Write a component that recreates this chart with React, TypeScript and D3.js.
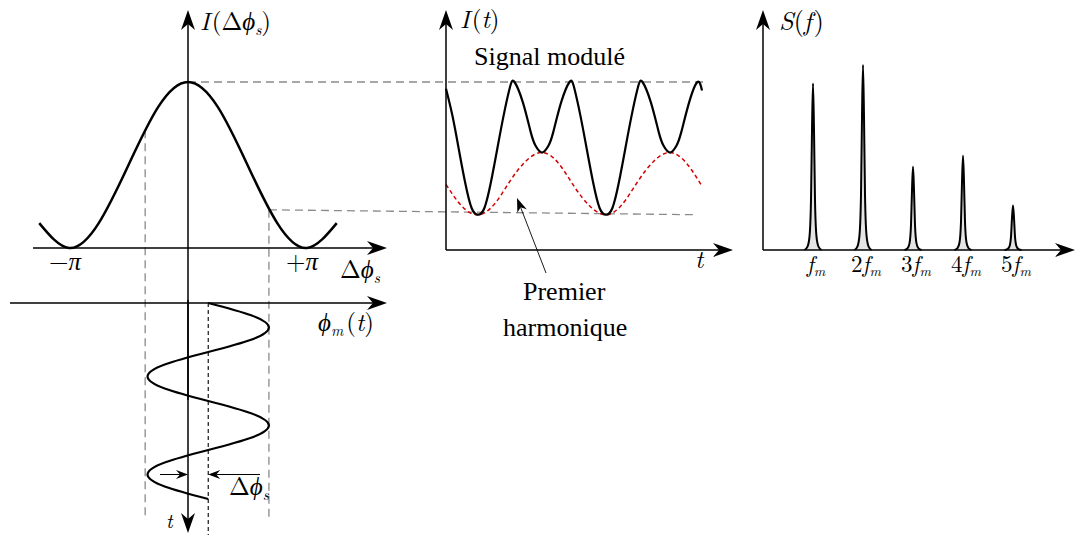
import React from 'react';
import * as d3 from 'd3';

// left panel: interferometer response I(Δφ), Δφ in units of π
const phaseSamples = [-1.25, -1, -0.75, -0.5, -0.25, 0, 0.25, 0.5, 0.75, 1, 1.25];
const intensitySamples = [0.15, 0, 0.15, 0.5, 0.85, 1, 0.85, 0.5, 0.15, 0, 0.15];

// modulation φm(t) drawn downwards, time in modulation periods
const modTime = [0, 0.125, 0.25, 0.375, 0.5, 0.625, 0.75, 0.875, 1, 1.125, 1.25, 1.375, 1.5, 1.625, 1.75, 1.875, 2];
const modPhase = [0.17, 0.53, 0.68, 0.53, 0.17, -0.19, -0.34, -0.19, 0.17, 0.53, 0.68, 0.53, 0.17, -0.19, -0.34, -0.19, 0.17];
const projPhase = [-0.36, 0.68];
const projIntensity = [0.71, 0.23];
const biasPhase = 0.17;
const arrowTime = 1.75;

// middle panel: modulated signal and its first harmonic
const signalT = [0, 0.2, 0.4, 0.6, 0.8, 1, 1.2, 1.4, 1.6, 1.8, 2, 2.14, 2.4, 2.65, 2.8, 3, 3.2, 3.35, 3.6, 3.86,
  4, 4.2, 4.4, 4.6, 4.8, 5, 5.2, 5.4, 5.6, 5.8, 6, 6.14, 6.4, 6.65, 6.8, 7, 7.2, 7.35, 7.6, 7.86, 8];
const signalI = [0.96, 0.8, 0.6, 0.4, 0.25, 0.21, 0.25, 0.4, 0.6, 0.8, 0.97, 1, 0.88, 0.7, 0.62, 0.58, 0.62, 0.7, 0.88, 1,
  0.97, 0.8, 0.6, 0.4, 0.25, 0.21, 0.25, 0.4, 0.6, 0.8, 0.97, 1, 0.88, 0.7, 0.62, 0.58, 0.62, 0.7, 0.88, 1, 0.95];
const harmT = [0, 0.5, 1, 1.5, 2, 2.5, 3, 3.5, 4, 4.5, 5, 5.5, 6, 6.5, 7, 7.5, 8];
const harmI = [0.39, 0.26, 0.21, 0.27, 0.41, 0.53, 0.58, 0.52, 0.38, 0.26, 0.21, 0.27, 0.41, 0.53, 0.58, 0.52, 0.38];

// right panel: spectrum
const harmOrder = [1, 2, 3, 4, 5];
const harmLabels = ['', '2', '3', '4', '5'];
const harmAmp = [0.9, 1.0, 0.45, 0.51, 0.24];
const peakOffset = [-0.17, -0.11, -0.07, -0.04, -0.02, 0, 0.02, 0.04, 0.07, 0.11, 0.17];
const peakLevel = [0, 0.02, 0.08, 0.3, 0.72, 1, 0.72, 0.3, 0.08, 0.02, 0];

const lm = '"Latin Modern Roman", "Liberation Serif", serif';
const gray = '#8a8a8a';

function arrowHead(x: number, y: number, angle: number, len = 20, half = 7, inset = 6) {
  const dx = Math.cos(angle), dy = Math.sin(angle);
  const px = -dy, py = dx;
  const bx = x - len * dx, by = y - len * dy;
  const nx = x - (len - inset) * dx, ny = y - (len - inset) * dy;
  return `M${x},${y}L${bx + half * px},${by + half * py}L${nx},${ny}L${bx - half * px},${by - half * py}Z`;
}

function Arrow({ x1, y1, x2, y2, w = 1.5, len = 20, half = 7, inset = 6 }: any) {
  const a = Math.atan2(y2 - y1, x2 - x1);
  const ex = x2 - (len - inset) * Math.cos(a);
  const ey = y2 - (len - inset) * Math.sin(a);
  return (
    <g>
      <line x1={x1} y1={y1} x2={ex} y2={ey} stroke="#000" strokeWidth={w} />
      <path d={arrowHead(x2, y2, a, len, half, inset)} fill="#000" />
    </g>
  );
}

export default function App() {
  const leftX = d3.scaleLinear().domain([-1, 1]).range([69, 307]);
  const leftY = d3.scaleLinear().domain([0, 1]).range([248, 82]);
  const modY = d3.scaleLinear().domain([0, 2]).range([303, 499]);
  const midX = d3.scaleLinear().domain([0, 9]).range([446, 734]);
  const midY = d3.scaleLinear().domain([0, 1]).range([250, 82]);
  const rightX = d3.scaleLinear().domain([0, 6]).range([763, 1063]);
  const rightY = d3.scaleLinear().domain([0, 1]).range([250, 65]);

  const cosLine = d3.line<number>().x((d) => leftX(d)).y((d, i) => leftY(intensitySamples[i])).curve(d3.curveNatural);
  const modLine = d3.line<number>().x((d) => leftX(d)).y((d, i) => modY(modTime[i])).curve(d3.curveNatural);
  const sigLine = d3.line<number>().x((d) => midX(d)).y((d, i) => midY(signalI[i])).curve(d3.curveNatural);
  const harmLine = d3.line<number>().x((d) => midX(d)).y((d, i) => midY(harmI[i])).curve(d3.curveNatural);

  const x0 = leftX(0);
  const yAxisL = leftY(0);
  const yMod = modY(0);
  const yArrow = modY(arrowTime);

  return (
    <svg width={1078} height={535} style={{ position: 'absolute', left: 0, top: 0 }}>
      {/* French captions first */}
      <text x={474} y={65} fontSize={26} fontFamily='"Liberation Serif"'>Signal modulé</text>
      <text x={523} y={300} fontSize={26} fontFamily='"Liberation Serif"'>Premier</text>
      <text x={503} y={336} fontSize={26} fontFamily='"Liberation Serif"'>harmonique</text>

      {/* gray projection lines */}
      <g stroke={gray} strokeWidth={1.3} strokeDasharray="8,5" fill="none">
        <line x1={x0} y1={leftY(1)} x2={midX(8.05)} y2={midY(1)} />
        <line x1={leftX(projPhase[1])} y1={leftY(projIntensity[1])} x2={midX(7.75)} y2={midY(0.21)} />
        <line x1={leftX(projPhase[0])} y1={leftY(projIntensity[0])} x2={leftX(projPhase[0])} y2={517} />
        <line x1={leftX(projPhase[1])} y1={leftY(projIntensity[1])} x2={leftX(projPhase[1])} y2={520} />
      </g>
      <line x1={leftX(biasPhase)} y1={yMod} x2={leftX(biasPhase)} y2={535} stroke="#000" strokeWidth={1.1} strokeDasharray="4,3" />

      {/* left axes */}
      <Arrow x1={33} y1={yAxisL} x2={387} y2={yAxisL} />
      <Arrow x1={10} y1={yMod} x2={387} y2={yMod} />
      <Arrow x1={x0} y1={400} x2={x0} y2={10} />
      <Arrow x1={x0} y1={300} x2={x0} y2={533} />

      <path d={cosLine(phaseSamples) || ''} fill="none" stroke="#000" strokeWidth={2.5} />
      <path d={modLine(modPhase) || ''} fill="none" stroke="#000" strokeWidth={2.2} />

      {/* Δφs marker */}
      <Arrow x1={160} y1={yArrow} x2={x0} y2={yArrow} w={1} len={12} half={4.5} inset={4} />
      <Arrow x1={260} y1={yArrow} x2={leftX(biasPhase)} y2={yArrow} w={1} len={12} half={4.5} inset={4} />

      <text x={200} y={30} fontFamily={lm} fontSize={25}>
        <tspan fontStyle="italic">I</tspan>
        <tspan dx={2}>(Δ</tspan>
        <tspan fontStyle="italic">ϕ</tspan>
        <tspan fontStyle="italic" fontSize={15} dy={5}>s</tspan>
        <tspan dy={-5}>)</tspan>
      </text>
      <text x={65} y={270} textAnchor="middle" fontFamily={lm} fontSize={25}>
        −<tspan fontStyle="italic">π</tspan>
      </text>
      <text x={302} y={270} textAnchor="middle" fontFamily={lm} fontSize={25}>
        +<tspan fontStyle="italic">π</tspan>
      </text>
      <text x={340} y={278} fontFamily={lm} fontSize={25}>
        Δ<tspan fontStyle="italic">ϕ</tspan>
        <tspan fontStyle="italic" fontSize={15} dy={5}>s</tspan>
      </text>
      <text x={318} y={331} fontFamily={lm} fontSize={25}>
        <tspan fontStyle="italic">ϕ</tspan>
        <tspan fontStyle="italic" fontSize={15} dy={5}>m</tspan>
        <tspan dy={-5} dx={3}>(</tspan>
        <tspan fontStyle="italic">t</tspan>
        <tspan>)</tspan>
      </text>
      <text x={229} y={495} fontFamily={lm} fontSize={25}>
        Δ<tspan fontStyle="italic">ϕ</tspan>
        <tspan fontStyle="italic" fontSize={15} dy={5}>s</tspan>
      </text>
      <text x={166} y={528} fontFamily={lm} fontSize={20} fontStyle="italic">t</text>

      {/* middle panel */}
      <path d={harmLine(harmT) || ''} fill="none" stroke="#d40000" strokeWidth={1.5} strokeDasharray="4,3" />
      <path d={sigLine(signalT) || ''} fill="none" stroke="#000" strokeWidth={2.2} />
      <Arrow x1={midX(0)} y1={midY(0)} x2={midX(0)} y2={10} />
      <Arrow x1={midX(0)} y1={midY(0)} x2={733} y2={midY(0)} />
      <Arrow x1={546} y1={273} x2={517} y2={198} w={0.9} len={14} half={5} inset={4} />
      <text x={460} y={28} fontFamily={lm} fontSize={25}>
        <tspan fontStyle="italic">I</tspan>
        <tspan dx={2}>(</tspan>
        <tspan fontStyle="italic">t</tspan>
        <tspan>)</tspan>
      </text>
      <text x={695} y={268} fontFamily={lm} fontSize={25} fontStyle="italic">t</text>

      {/* right panel: spectrum */}
      {harmOrder.map((k, j) => {
        const peak = d3.line<number>()
          .x((d) => rightX(k + d))
          .y((d, i) => rightY(harmAmp[j] * peakLevel[i]))
          .curve(d3.curveMonotoneX);
        return <path key={k} d={peak(peakOffset) || ''} fill="#e4e4e4" stroke="#000" strokeWidth={2} />;
      })}
      <Arrow x1={rightX(0)} y1={rightY(0)} x2={rightX(0)} y2={10} />
      <Arrow x1={rightX(0)} y1={rightY(0)} x2={1075} y2={rightY(0)} />
      <text x={779} y={30} fontFamily={lm} fontSize={26}>
        <tspan fontStyle="italic">S</tspan>
        <tspan>(</tspan>
        <tspan fontStyle="italic">f</tspan>
        <tspan dx={2}>)</tspan>
      </text>
      {harmOrder.map((k, j) => (
        <text key={k} x={rightX(k) + 3} y={272} textAnchor="middle" fontFamily={lm} fontSize={23}>
          {harmLabels[j]}
          <tspan fontStyle="italic">f</tspan>
          <tspan fontStyle="italic" fontSize={14} dy={4}>m</tspan>
        </text>
      ))}
    </svg>
  );
}
